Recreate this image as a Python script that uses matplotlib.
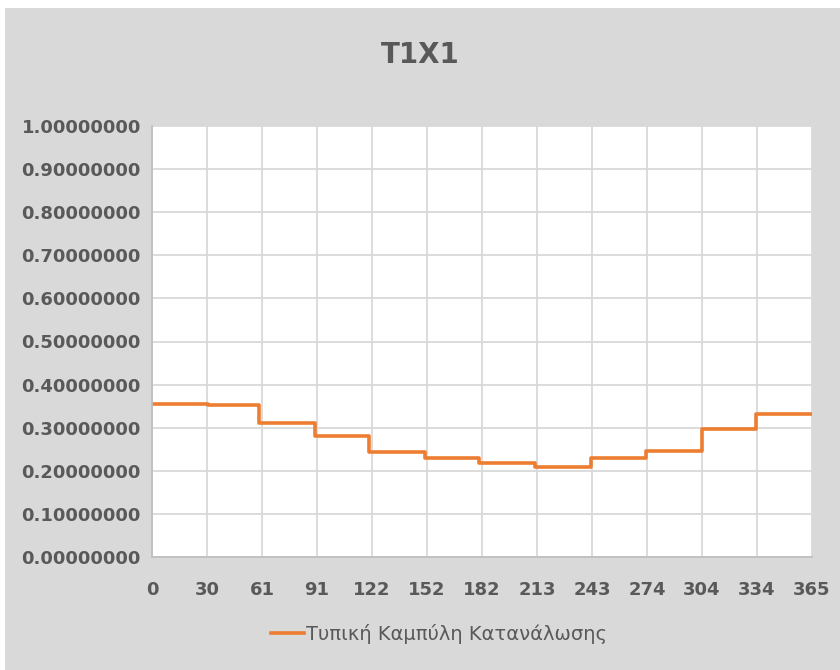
import matplotlib
matplotlib.use('Agg')
import matplotlib.pyplot as plt
from matplotlib.patches import Rectangle
import numpy as np

# monthly step values (start day of each month, value)
month_start = [0, 31, 59, 90, 120, 151, 181, 212, 243, 273, 304, 334]
month_value = [0.356, 0.352, 0.312, 0.281, 0.244, 0.230, 0.218, 0.209, 0.230, 0.247, 0.298, 0.331]
year_end = 365

xlabels = ['0', '30', '61', '91', '122', '152', '182', '213', '243', '274', '304', '334', '365']
yticks = [0.0, 0.1, 0.2, 0.3, 0.4, 0.5, 0.6, 0.7, 0.8, 0.9, 1.0]

title = 'T1X1'
series_name = 'Τυπική Καμπύλη Κατανάλωσης'

grey_txt = '#595959'
orange = '#ED7D31'

fig = plt.figure(figsize=(8.4, 6.7), dpi=100, facecolor='white')
fig.patches.append(Rectangle((5/840, 0), 1, (670-8)/670, transform=fig.transFigure,
                             facecolor='#d9d9d9', edgecolor='none', zorder=-10))

ax = fig.add_axes([152/840, (670-557)/670, (812-152)/840, (557-126)/670])
ax.set_facecolor('white')

xs = month_start + [year_end]
ys = month_value + [month_value[-1]]
line, = ax.step(xs, ys, where='post', color=orange, lw=2.6, label=series_name)

ax.set_xlim(0, year_end)
ax.set_ylim(0, 1)
ax.set_xticks(np.linspace(0, year_end, len(xlabels)))
ax.set_xticklabels(xlabels)
ax.set_yticks(yticks)
ax.set_yticklabels(['%.8f' % v for v in yticks])
ax.grid(True, color='#d9d9d9', lw=1.3)
ax.set_axisbelow(True)
for k in ['top', 'right']:
    ax.spines[k].set_visible(False)
for k in ['left', 'bottom']:
    ax.spines[k].set_color('#bfbfbf')
    ax.spines[k].set_linewidth(1.3)
ax.tick_params(length=0, colors=grey_txt, labelsize=13)
ax.tick_params(axis='x', pad=17)
ax.tick_params(axis='y', pad=8)
for t in ax.get_xticklabels() + ax.get_yticklabels():
    t.set_fontweight('bold')

fig.text(0.5, 1 - 55/670, title, ha='center', va='center', fontsize=20,
         fontweight='bold', color=grey_txt)

fig.legend(handles=[line], loc='center', bbox_to_anchor=(439/840, 1 - 634/670),
           frameon=False, fontsize=14, labelcolor=grey_txt, handlelength=1.7,
           handletextpad=0.15)

fig.savefig('out.png', dpi=100, facecolor=fig.get_facecolor())
